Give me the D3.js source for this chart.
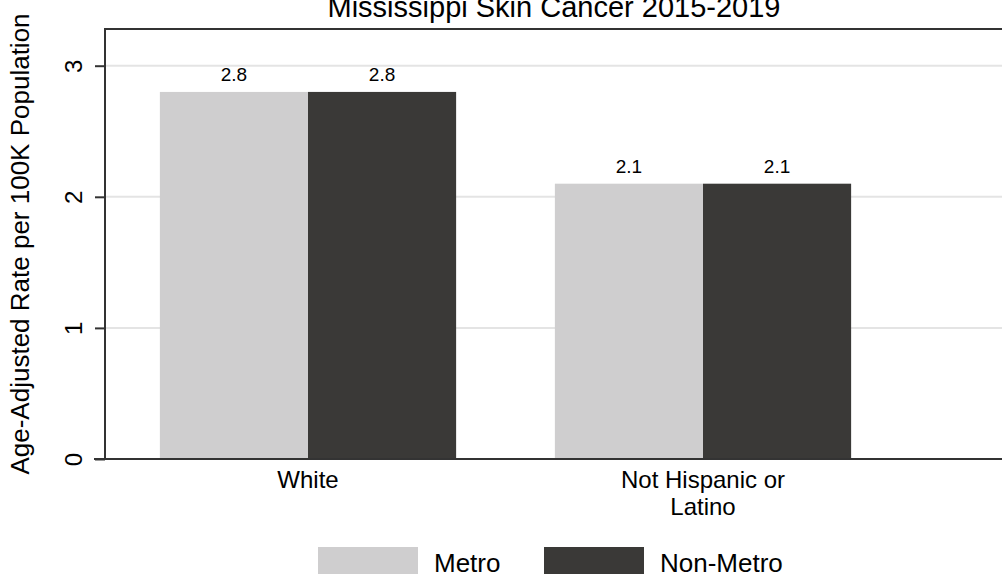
<!DOCTYPE html>
<html>
<head>
<meta charset="utf-8">
<script src="https://cdn.jsdelivr.net/npm/d3@7"></script>
<style>
  body { margin: 0; background: #fff; }
  text { font-family: "Liberation Sans", Arial, Helvetica, sans-serif; fill: #000; }
</style>
</head>
<body>
<div id="wrapper"></div>
<script>
// data
const categories = ["White", "Not Hispanic or|Latino"]
const seriesNames = ["Metro", "Non-Metro"]
const metroValues = [2.8, 2.1]
const nonMetroValues = [2.8, 2.1]
const yTicks = [0, 1, 2, 3]
const colors = ["#cfcecf", "#3a3937"]

function drawChart() {
    const parent = d3.select("#wrapper")
    parent.selectAll('*').remove()
    const dataset = categories.map((c, i) => ({ cat: c, values: [metroValues[i], nonMetroValues[i]] }))

    let dimensions = {
        width: 1002,
        height: 574,
        margin: { top: 29, right: 0, bottom: 115, left: 105 },
    }
    dimensions.boundedWidth = dimensions.width - dimensions.margin.left - dimensions.margin.right
    dimensions.boundedHeight = dimensions.height - dimensions.margin.top - dimensions.margin.bottom

    const wrapper = parent.append("svg").attr("width", dimensions.width).attr("height", dimensions.height)
    const bounds = wrapper.append("g")
        .attr("transform", `translate(${dimensions.margin.left},${dimensions.margin.top})`)

    // scales
    const yScaler = d3.scaleLinear()
        .domain([0, 3.28])
        .range([dimensions.boundedHeight, 0])
    const xScaler = d3.scaleBand()
        .domain(categories)
        .range([5.5, 795.5])
        .paddingInner(0.25)
        .paddingOuter(0.125)
    const subScaler = d3.scaleBand()
        .domain(seriesNames)
        .range([0, xScaler.bandwidth()])

    // grid lines
    bounds.append("g").selectAll("line")
        .data(yTicks.filter(d => d > 0))
        .enter().append("line")
        .attr("x1", 0).attr("x2", dimensions.boundedWidth)
        .attr("y1", d => yScaler(d)).attr("y2", d => yScaler(d))
        .attr("stroke", "#e4e4e4").attr("stroke-width", 2)

    // bars
    const groups = bounds.append("g").selectAll("g")
        .data(dataset).enter().append("g")
        .attr("transform", d => `translate(${xScaler(d.cat)},0)`)
    groups.selectAll("rect")
        .data(d => d.values.map((v, i) => ({ name: seriesNames[i], value: v, i: i })))
        .enter().append("rect")
        .attr("x", d => subScaler(d.name))
        .attr("y", d => yScaler(d.value))
        .attr("width", subScaler.bandwidth())
        .attr("height", d => dimensions.boundedHeight - yScaler(d.value))
        .attr("fill", d => colors[d.i])
    groups.selectAll("text")
        .data(d => d.values.map((v, i) => ({ name: seriesNames[i], value: v })))
        .enter().append("text")
        .attr("x", d => subScaler(d.name) + subScaler.bandwidth() / 2)
        .attr("y", d => yScaler(d.value) - 11)
        .attr("text-anchor", "middle")
        .style("font-size", "19px")
        .text(d => d.value.toFixed(1))

    // y axis
    const yAxisGen = d3.axisLeft(yScaler).tickValues(yTicks).tickSize(10).tickPadding(0).tickFormat(d3.format("d"))
    const yAxis = bounds.append("g").call(yAxisGen)
    yAxis.select(".domain").remove()
    yAxis.selectAll("line").attr("stroke", "#333").attr("stroke-width", 2)
    yAxis.selectAll("text")
        .attr("x", 0).attr("y", 0).attr("dy", null)
        .attr("text-anchor", "middle")
        .attr("transform", "translate(-23,0) rotate(-90)")
        .style("font-size", "24px")
        .style("fill", "#000")
    bounds.append("line")
        .attr("x1", 0).attr("x2", 0).attr("y1", 0).attr("y2", dimensions.boundedHeight)
        .attr("stroke", "#333").attr("stroke-width", 2)
    // top border
    bounds.append("line")
        .attr("x1", -1).attr("x2", dimensions.boundedWidth).attr("y1", 0).attr("y2", 0)
        .attr("stroke", "#333").attr("stroke-width", 2)

    // x axis
    bounds.append("line")
        .attr("x1", -11).attr("x2", dimensions.boundedWidth)
        .attr("y1", dimensions.boundedHeight).attr("y2", dimensions.boundedHeight)
        .attr("stroke", "#333").attr("stroke-width", 2)
    const xLabels = bounds.append("g").selectAll("text")
        .data(categories).enter().append("text")
        .attr("x", d => xScaler(d) + xScaler.bandwidth() / 2)
        .attr("y", dimensions.boundedHeight + 29)
        .attr("text-anchor", "middle")
        .style("font-size", "24px")
    xLabels.selectAll("tspan")
        .data(d => d.split("|")).enter().append("tspan")
        .attr("x", function () { return this.parentNode.getAttribute("x") })
        .attr("dy", (d, i) => i === 0 ? 0 : 27)
        .text(d => d)

    // axis title
    wrapper.append("text")
        .attr("transform", `translate(29,${dimensions.margin.top + dimensions.boundedHeight / 2}) rotate(-90)`)
        .attr("text-anchor", "middle")
        .style("font-size", "26px")
        .text("Age-Adjusted Rate per 100K Population")

    // chart title
    wrapper.append("text")
        .attr("x", 554).attr("y", 17)
        .attr("text-anchor", "middle")
        .style("font-size", "29px")
        .text("Mississippi Skin Cancer 2015-2019")

    // legend
    const legendX = [318, 544]
    const legend = wrapper.append("g").selectAll("g")
        .data(seriesNames).enter().append("g")
        .attr("transform", (d, i) => `translate(${legendX[i]},547)`)
    legend.append("rect")
        .attr("width", 100).attr("height", 30)
        .attr("fill", (d, i) => colors[i])
    legend.append("text")
        .attr("x", 116).attr("y", 25)
        .style("font-size", "26px")
        .text(d => d)
}
drawChart()
</script>
</body>
</html>
